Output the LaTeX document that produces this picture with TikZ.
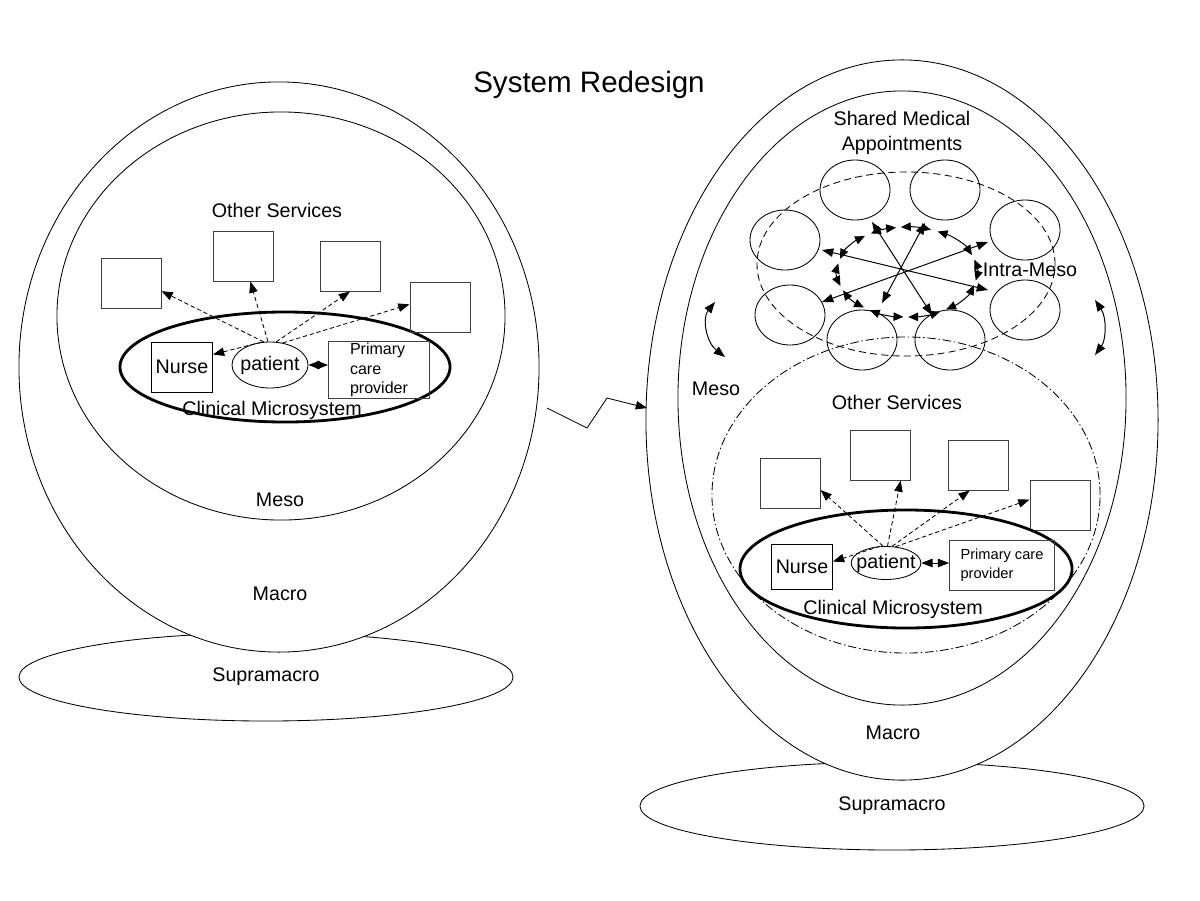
\documentclass[tikz,border=0pt]{standalone}
\usepackage{fontspec}
\setmainfont{Liberation Sans}
\usepackage{tikz}
\usetikzlibrary{positioning, shapes.geometric, arrows.meta}

\begin{document}
\begin{tikzpicture}[
    x=0.025cm, y=-0.025cm,
    lbl/.style={font=\fontsize{14}{17}\selectfont, align=center, inner sep=0pt},
    layer/.style={ellipse, draw, inner sep=0pt, line width=0.6pt},
    micro/.style={ellipse, draw, inner sep=0pt, line width=2pt},
    svc/.style={rectangle, draw=black!75, line width=0.7pt, minimum width=1.5cm, minimum height=1.25cm, inner sep=0pt},
    staff/.style={rectangle, draw, line width=0.6pt, inner sep=0pt, font=\fontsize{14}{17}\selectfont},
    pat/.style={ellipse, draw, line width=0.6pt, inner ysep=0pt, font=\fontsize{14}{17}\selectfont},
    sma/.style={ellipse, draw, line width=0.6pt, minimum width=1.75cm, minimum height=1.5cm, inner sep=0pt},
    link/.style={line width=0.6pt, dash pattern=on 3pt off 2pt, -{Triangle[length=8pt, width=6pt]}},
    both/.style={line width=0.7pt, {Triangle[length=8pt, width=6pt]}-{Triangle[length=8pt, width=6pt]}},
    ringarr/.style={line width=0.7pt, {Triangle[length=7pt, width=6pt]}-{Triangle[length=7pt, width=6pt]}}
]
\useasboundingbox (0,0) rectangle (1200,900);

% Title
\node[font=\fontsize{21}{25}\selectfont] (title) at (589,85) {System Redesign};

% ---------------- Left: current system ----------------
\node[layer, minimum width=12.35cm, minimum height=2.2cm, font=\fontsize{14}{17}\selectfont] (lsupra) at (266,677) {Supramacro};
\node[layer, fill=white, minimum width=13cm, minimum height=14.25cm] (lmacro) at (279,367) {};
\node[layer, minimum width=11.2cm, minimum height=10.2cm] (lmeso) at (281,316) {};
\node[micro, minimum width=8.25cm, minimum height=2.75cm] (lmicro) at (285,367) {};

\node[lbl] (lothlbl) at (277,210) {Other Services};
\node[lbl] (lmicrolbl) at (272,410) {Clinical Microsystem};
\node[lbl] (lmesolbl) at (280,500) {Meso};
\node[lbl] (lmacrolbl) at (280,594) {Macro};

% Other services
\node[svc] (lbox1) at (131,283) {};
\node[svc] (lbox2) at (243,256) {};
\node[svc] (lbox3) at (350,266) {};
\node[svc] (lbox4) at (440,307) {};

% Microsystem members
\node[staff, minimum width=1.525cm, minimum height=1.25cm] (lnurse) at (182,367) {Nurse};
\node[pat, inner xsep=-2pt, minimum width=1.9cm, minimum height=1.15cm] (lpat) at (270,365) {patient};
\node[staff, draw=black!75, minimum width=2.525cm, minimum height=1.425cm, align=left,
      font=\fontsize{11.4}{13.9}\selectfont] (lpcp) at (379,370) {Primary\\care\\provider};

\draw[link] (lpat.105) -- (lbox1.-15);
\draw[link] (lpat.95) -- (lbox2.-74);
\draw[link] (lpat.75) -- (lbox3.south);
\draw[link] (lpat.60) -- (lbox4.175);
\draw[link] (lpat.110) -- (lnurse.22);
\draw[both] (lpat.east) -- (lpat.east -| lpcp.west);

% Redesign step
\coordinate (zz1) at (547,408);
\coordinate (zz2) at (587,428);
\coordinate (zz3) at (607,398);
\coordinate (zz4) at (647,408);
\draw[line width=0.6pt, -{Triangle[length=8pt, width=6pt]}] (zz1) -- (zz2) -- (zz3) -- (zz4);

% ---------------- Right: redesigned system ----------------
\node[layer, minimum width=12.6cm, minimum height=2.2cm, font=\fontsize{14}{17}\selectfont] (rsupra) at (892,806) {Supramacro};
\node[layer, fill=white, minimum width=12.8cm, minimum height=18cm] (rmacro) at (902,420) {};
\node[layer, minimum width=11.2cm, minimum height=15.35cm] (rmeso) at (902,398) {};
\node[layer, dash pattern=on 6pt off 2pt on 1pt off 2pt, minimum width=9.7cm, minimum height=7.9cm] (roth) at (906,495) {};
\node[layer, dash pattern=on 5pt off 3pt, minimum width=7.45cm, minimum height=4.6cm] (rsma) at (906,264) {};

\node[lbl, font=\fontsize{14}{17.5}\selectfont] (rsmalbl) at (902,133) {Shared Medical\\Appointments};
\node[lbl] (rintralbl) at (1030,270) {Intra-Meso};
\node[lbl] (rmesolbl) at (716,389) {Meso};
\node[lbl] (rothlbl) at (897,402) {Other Services};
\node[lbl] (rmicrolbl) at (893,609) {Clinical Microsystem};
\node[lbl] (rmacrolbl) at (893,733) {Macro};

% Shared medical appointment groups
\node[sma] (g1) at (855,190) {};
\node[sma] (g2) at (945,190) {};
\node[sma] (g3) at (1025,230) {};
\node[sma] (g4) at (1025,310) {};
\node[sma] (g5) at (950,340) {};
\node[sma] (g6) at (862,340) {};
\node[sma] (g7) at (790,315) {};
\node[sma] (g8) at (785,240) {};

% Intra-meso exchange
\coordinate (rc) at (907,272);
\coordinate (sp1a) at (872,222);
\coordinate (sp1b) at (932,315);
\coordinate (sp2a) at (925,223);
\coordinate (sp2b) at (882,303);
\coordinate (sp3a) at (988,242);
\coordinate (sp3b) at (822,302);
\coordinate (sp4a) at (988,290);
\coordinate (sp4b) at (822,250);
\draw[both] (sp1a) -- (sp1b);
\draw[both] (sp2a) -- (sp2b);
\draw[both] (sp3a) -- (sp3b);
\draw[both] (sp4a) -- (sp4b);

\draw[ringarr] ([shift={(-156:1.75cm and 1.125cm)}]rc) arc[start angle=-156, end angle=-128, x radius=1.75cm, y radius=1.125cm];
\draw[ringarr] ([shift={(-122:1.75cm and 1.125cm)}]rc) arc[start angle=-122, end angle=-93, x radius=1.75cm, y radius=1.125cm];
\draw[ringarr] ([shift={(-89:1.75cm and 1.125cm)}]rc) arc[start angle=-89, end angle=-62, x radius=1.75cm, y radius=1.125cm];
\draw[ringarr] ([shift={(-56:1.75cm and 1.125cm)}]rc) arc[start angle=-56, end angle=-17, x radius=1.75cm, y radius=1.125cm];
\draw[ringarr] ([shift={(-11:1.75cm and 1.125cm)}]rc) arc[start angle=-11, end angle=16, x radius=1.75cm, y radius=1.125cm];
\draw[ringarr] ([shift={(22:1.75cm and 1.125cm)}]rc) arc[start angle=22, end angle=64, x radius=1.75cm, y radius=1.125cm];
\draw[ringarr] ([shift={(70:1.75cm and 1.125cm)}]rc) arc[start angle=70, end angle=95, x radius=1.75cm, y radius=1.125cm];
\draw[ringarr] ([shift={(99:1.75cm and 1.125cm)}]rc) arc[start angle=99, end angle=121, x radius=1.75cm, y radius=1.125cm];
\draw[ringarr] ([shift={(127:1.75cm and 1.125cm)}]rc) arc[start angle=127, end angle=163, x radius=1.75cm, y radius=1.125cm];
\draw[ringarr] ([shift={(169:1.75cm and 1.125cm)}]rc) arc[start angle=169, end angle=198, x radius=1.75cm, y radius=1.125cm];

% Meso exchange
\coordinate (ma1) at (715,302);
\coordinate (ma2) at (725,357);
\coordinate (mb1) at (1095,300);
\coordinate (mb2) at (1095,355);
\draw[both] (ma1) .. controls (702,318) and (706,342) .. (ma2);
\draw[both] (mb1) .. controls (1107,318) and (1106,340) .. (mb2);

% Other services
\node[svc] (rbox1) at (790,483) {};
\node[svc] (rbox2) at (880,455) {};
\node[svc] (rbox3) at (978,465) {};
\node[svc] (rbox4) at (1060,505) {};

% Microsystem
\node[micro, minimum width=8.3cm, minimum height=2.95cm] (rmicro) at (906,569) {};
\node[staff, minimum width=1.525cm, minimum height=1.125cm] (rnurse) at (802,567) {Nurse};
\node[pat, inner xsep=-3.5pt, minimum width=1.7cm, minimum height=0.825cm] (rpat) at (886,563) {patient};
\node[staff, draw=black!75, minimum width=2.625cm, minimum height=1.25cm, align=left,
      font=\fontsize{10.4}{13.5}\selectfont] (rpcp) at (1002,565) {Primary care\\provider};

\draw[link] (rpat.100) -- (rbox1.-13);
\draw[link] (rpat.85) -- (rbox2.-51);
\draw[link] (rpat.70) -- (rbox3.-108);
\draw[link] (rpat.60) -- (rbox4.170);
\draw[link] (rpat.110) -- (rnurse.10);
\draw[both] (rpat.east) -- (rpat.east -| rpcp.west);

\end{tikzpicture}
\end{document}
